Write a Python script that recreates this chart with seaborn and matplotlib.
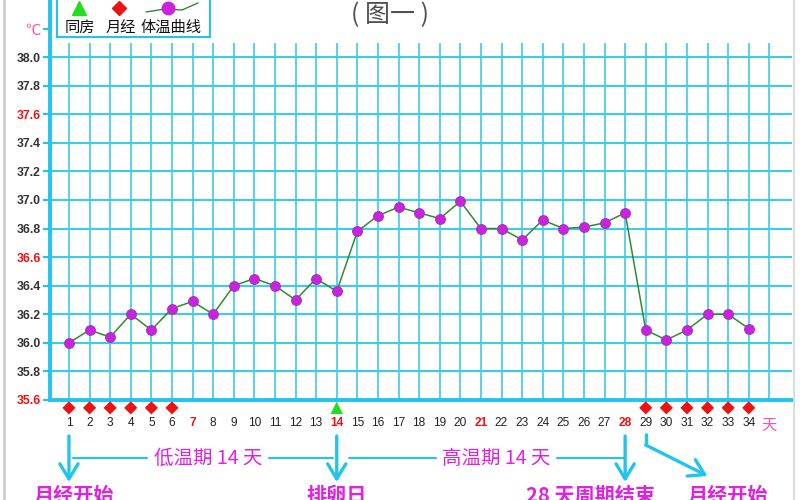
"""
Basal body temperature chart (图一) redrawn with seaborn
"""

import numpy as np
import matplotlib.pyplot as plt
from matplotlib.lines import Line2D
import seaborn as sns

# data
days = list(range(1, 35))
temps = [36.00, 36.09, 36.04, 36.20, 36.09, 36.24, 36.29, 36.20, 36.40, 36.45,
         36.40, 36.30, 36.45, 36.36, 36.78, 36.89, 36.95, 36.91, 36.87, 36.99,
         36.80, 36.80, 36.72, 36.86, 36.80, 36.81, 36.84, 36.91, 36.09, 36.02,
         36.09, 36.20, 36.20, 36.10]
period_days = [1, 2, 3, 4, 5, 6, 29, 30, 31, 32, 33, 34]
sex_days = [14]
red_days = [7, 14, 21, 28]
y_levels = [35.6, 35.8, 36.0, 36.2, 36.4, 36.6, 36.8, 37.0, 37.2, 37.4, 37.6, 37.8, 38.0]
red_levels = [35.6, 36.6, 37.6]

CYAN = '#22c4ec'
GRID = '#3ccbe8'
MAGENTA = '#e022e0'
PINK = '#ff55aa'

sns.set_theme(style='white')
plt.rcParams['font.family'] = ['Liberation Sans', 'Noto Sans CJK SC', 'DejaVu Sans']
CJK = ['Noto Sans CJK SC', 'DejaVu Sans']

fig = plt.figure(figsize=(8, 5), dpi=100)
ax = fig.add_axes([50 / 800, 100 / 500, 742 / 800, 400 / 500])

# grid drawn by hand so it stops where the original stops
ax.hlines(y_levels[1:], 0.08, 36.1, color=GRID, lw=1.5, zorder=1)
ax.vlines(range(1, 36), 35.6, 38.1, color=GRID, lw=1.2, zorder=1)

# temperature curve
sns.lineplot(x=days, y=temps, ax=ax, color='#2e8b2e', linewidth=1.1,
             marker='o', markersize=7, markerfacecolor='#cc22dd',
             markeredgecolor='#a030c8', markeredgewidth=0.8, zorder=4)

# period / intercourse markers just under the axis
mark_y = 35.6 - 0.055
sns.scatterplot(x=period_days, y=[mark_y] * len(period_days), ax=ax, marker='D',
                s=45, color='#ee1111', edgecolor='none', clip_on=False, zorder=5)
sns.scatterplot(x=sex_days, y=[mark_y] * len(sex_days), ax=ax, marker='^',
                s=80, color='#22dd22', edgecolor='none', clip_on=False, zorder=5)

ax.set_xlim(0.08, 36.1)
ax.set_ylim(35.6, 38.4)

for side in ['top', 'right']:
    ax.spines[side].set_visible(False)
for side in ['left', 'bottom']:
    ax.spines[side].set_color(CYAN)
    ax.spines[side].set_linewidth(2.8)
    ax.spines[side].set_zorder(3)

# y ticks, with the unit as the top label
ax.set_yticks(y_levels + [38.2])
ax.set_yticklabels([f'{v:.1f}' for v in y_levels] + ['℃'])
ax.tick_params(axis='y', length=5, width=1.5, color=CYAN, pad=1.5, left=True,
               labelsize=8.8)
for lab, v in zip(ax.get_yticklabels(), y_levels + [38.2]):
    if v > 38.1:
        lab.set_color(PINK)
        lab.set_family(CJK)
        lab.set_fontsize(11)
    else:
        lab.set_fontweight('bold')
        lab.set_color('#ee1111' if round(v, 1) in red_levels else '#333333')

# day ticks, with 天 at the end
ax.set_xticks(range(1, 36))
ax.set_xticklabels([str(d) for d in days] + ['天'])
ax.tick_params(axis='x', length=0, pad=12, labelsize=8.6)
for lab, d in zip(ax.get_xticklabels(), range(1, 36)):
    if d == 35:
        lab.set_color(PINK)
        lab.set_family(CJK)
        lab.set_fontsize(11)
    elif d in red_days:
        lab.set_color('#ee1111')
        lab.set_fontweight('bold')
    else:
        lab.set_color('#222222')

# annotations under the chart (y in axes fraction, from pixel rows)
tr = ax.get_xaxis_transform()


def row(py):
    return (400 - py) / 400


arrow = dict(arrowstyle='->,head_length=0.9,head_width=0.55', color=CYAN,
             lw=2.4, shrinkA=0, shrinkB=0)
for d in [1, 14, 28]:
    ax.annotate('', xy=(d, row(482)), xytext=(d, row(436)), xycoords=tr,
                textcoords=tr, arrowprops=arrow, annotation_clip=False)

ax.plot([29, 29], [row(433), row(445)], transform=tr, color=CYAN, lw=2.4,
        clip_on=False, solid_capstyle='butt')
ax.annotate('', xy=(32.0, row(476)), xytext=(29, row(445)), xycoords=tr,
            textcoords=tr, arrowprops=arrow, annotation_clip=False)

for x0, x1 in [(1.2, 4.8), (10.7, 13.8), (14.6, 18.8), (24.7, 28.0)]:
    ax.plot([x0, x1], [row(458), row(458)], transform=tr, color=CYAN, lw=1.5,
            clip_on=False)

ax.text(7.75, row(458), '低温期 14 天', transform=tr, ha='center', va='center',
        fontsize=14, color=MAGENTA, family=CJK)
ax.text(21.75, row(458), '高温期 14 天', transform=tr, ha='center', va='center',
        fontsize=14, color=MAGENTA, family=CJK)

# these run off the bottom edge in the original too
for x, txt in [(1.25, '月经开始'), (14.0, '排卵日'), (26.3, '28 天周期结束'),
               (33.0, '月经开始')]:
    ax.text(x, row(495), txt, transform=tr, ha='center', va='center',
            fontsize=14.5, color=MAGENTA, family=CJK, fontweight='bold')

# title
fig.text(390 / 800, 1 - 15 / 500, '( 图一 )', ha='center', va='center',
         fontsize=18, color='#505050', family=CJK, fontweight='medium')

# legend box drawn in pixel units
leg = fig.add_axes([57 / 800, 1 - 37 / 500, 153 / 800, 40 / 500])
leg.set_xlim(57, 210)
leg.set_ylim(37, -3)
leg.set_xticks([])
leg.set_yticks([])
for sp in leg.spines.values():
    sp.set_color(CYAN)
    sp.set_linewidth(1.5)
leg.plot([79], [8], marker='^', ms=10, color='#22dd22', ls='none')
leg.plot([119], [8], marker='D', ms=7.5, color='#ee1111', ls='none')
leg.plot([146, 165, 182, 198], [12, 9, 10, 3], color='#2e8b2e', lw=1)
leg.plot([168], [8], marker='o', ms=9, color='#cc22dd', ls='none')
for x, txt in [(80, '同房'), (121, '月经'), (171, '体温曲线')]:
    leg.text(x, 27, txt, ha='center', va='center', fontsize=11,
             color='#111111', family=CJK)

# thin grey frame on the sides like the original image
fig.add_artist(Line2D([4 / 800, 4 / 800], [0, 1], color='#cccccc', lw=2))
fig.add_artist(Line2D([794 / 800, 794 / 800], [0, 1], color='#dddddd', lw=1.5))

fig.savefig('out.png', dpi=100)
plt.close(fig)
